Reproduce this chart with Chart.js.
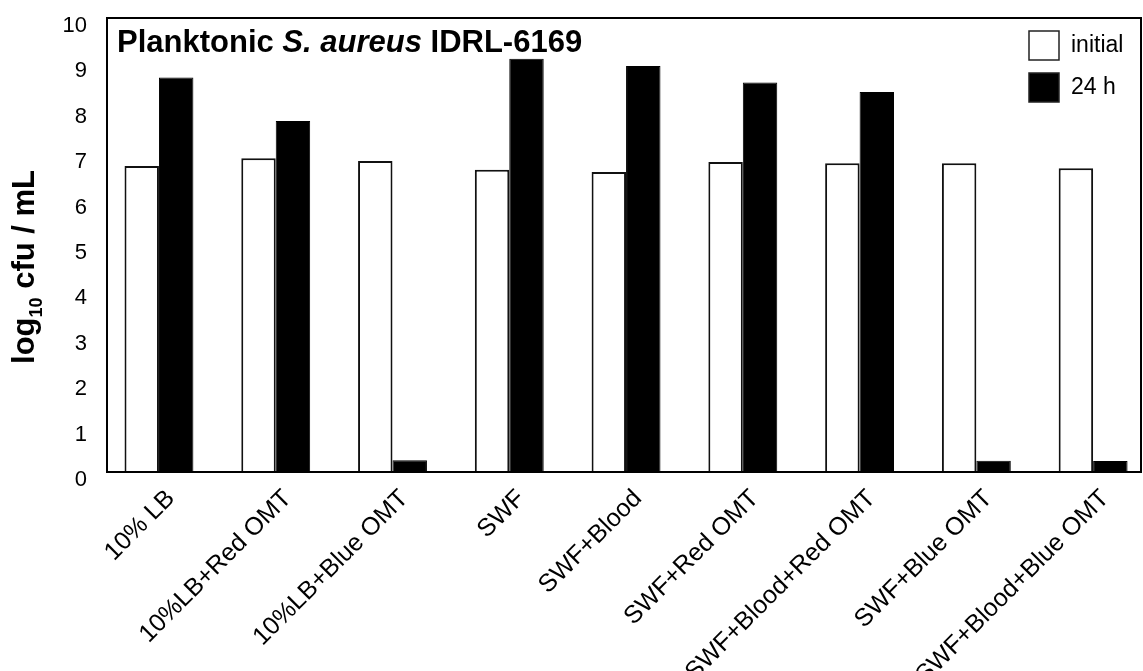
<!DOCTYPE html>
<html>
<head>
<meta charset="utf-8">
<script src="https://cdn.jsdelivr.net/npm/chart.js@4.4.1/dist/chart.umd.min.js"></script>
<style>
  html, body { margin: 0; padding: 0; background: #fff; }
  #wrap { width: 1143px; height: 671px; }
</style>
</head>
<body>
<div id="wrap"><canvas id="chart"></canvas></div>
<script>
// Data
const categories = [
  "10% LB",
  "10%LB+Red OMT",
  "10%LB+Blue OMT",
  "SWF",
  "SWF+Blood",
  "SWF+Red OMT",
  "SWF+Blood+Red OMT",
  "SWF+Blue OMT",
  "SWF+Blood+Blue OMT",
];
const initialValues = [6.74, 6.91, 6.85, 6.66, 6.61, 6.83, 6.80, 6.80, 6.69];
const after24hValues = [8.69, 7.73, 0.26, 9.10, 8.94, 8.58, 8.37, 0.25, 0.24];
const seriesLabels = ["initial", "24 h"];
const yTicks = [0, 1, 2, 3, 4, 5, 6, 7, 8, 9, 10];

const FONT = "'Liberation Sans', Arial, Helvetica, sans-serif";

// Box around the plot
const framePlugin = {
  id: "frame",
  afterDatasetsDraw(chart) {
    const { ctx, chartArea } = chart;
    ctx.save();
    ctx.strokeStyle = "#000";
    ctx.lineWidth = 2;
    ctx.strokeRect(chartArea.left, chartArea.top, chartArea.right - chartArea.left, chartArea.bottom - chartArea.top);
    ctx.restore();
  },
};

// Title inside the plot, with the species name in italics
const innerTitlePlugin = {
  id: "innerTitle",
  afterDraw(chart) {
    const { ctx, chartArea } = chart;
    const parts = [
      { text: "Planktonic ", italic: false },
      { text: "S. aureus", italic: true },
      { text: " IDRL-6169", italic: false },
    ];
    let x = chartArea.left + 10;
    const y = chartArea.top + 34;
    ctx.save();
    ctx.fillStyle = "#000";
    ctx.textBaseline = "alphabetic";
    ctx.textAlign = "left";
    parts.forEach((p) => {
      ctx.font = (p.italic ? "italic " : "") + "bold 31px " + FONT;
      ctx.fillText(p.text, x, y);
      x += ctx.measureText(p.text).width;
    });
    ctx.restore();
  },
};

// Legend boxes in the top right corner of the frame
const innerLegendPlugin = {
  id: "innerLegend",
  afterDraw(chart) {
    const { ctx, chartArea } = chart;
    ctx.save();
    ctx.font = "23px " + FONT;
    ctx.textBaseline = "middle";
    ctx.textAlign = "left";
    chart.data.datasets.forEach((ds, i) => {
      const bx = chartArea.right - 112;
      const by = chartArea.top + 13 + i * 42;
      ctx.fillStyle = ds.backgroundColor;
      ctx.fillRect(bx, by, 30, 29);
      ctx.strokeStyle = "#222";
      ctx.lineWidth = 1.5;
      ctx.strokeRect(bx, by, 30, 29);
      ctx.fillStyle = "#000";
      ctx.fillText(ds.label, bx + 42, by + 15);
    });
    ctx.restore();
  },
};

// Y axis title with a real subscript
const yTitlePlugin = {
  id: "yTitle",
  afterDraw(chart) {
    const { ctx } = chart;
    const big = "bold 31px " + FONT;
    const small = "bold 18px " + FONT;
    ctx.save();
    ctx.translate(34, 267);
    ctx.rotate(-Math.PI / 2);
    ctx.fillStyle = "#000";
    ctx.textBaseline = "alphabetic";
    ctx.font = big;
    const w1 = ctx.measureText("log").width;
    ctx.font = small;
    const w2 = ctx.measureText("10").width;
    ctx.font = big;
    const w3 = ctx.measureText(" cfu / mL").width;
    let x = -(w1 + w2 + w3) / 2;
    ctx.fillText("log", x, 0);
    x += w1;
    ctx.font = small;
    ctx.fillText("10", x, 8);
    x += w2;
    ctx.font = big;
    ctx.fillText(" cfu / mL", x, 0);
    ctx.restore();
  },
};

// Bars sit on a linear x axis (one unit per group) so the groups can be placed like the original
const initialPoints = initialValues.map((v, i) => ({ x: i, y: v }));
const after24hPoints = after24hValues.map((v, i) => ({ x: i, y: v }));

const ctx = document.getElementById("chart").getContext("2d");
new Chart(ctx, {
  type: "bar",
  data: {
    datasets: [
      {
        label: seriesLabels[0],
        data: initialPoints,
        backgroundColor: "#ffffff",
        borderColor: "#111111",
        borderWidth: 2,
        barPercentage: 1.0,
        categoryPercentage: 0.59,
      },
      {
        label: seriesLabels[1],
        data: after24hPoints,
        backgroundColor: "#000000",
        borderColor: "#000000",
        borderWidth: 1,
        barPercentage: 1.0,
        categoryPercentage: 0.59,
      },
    ],
  },
  options: {
    responsive: true,
    maintainAspectRatio: false,
    animation: false,
    layout: { padding: { top: 18, right: 2, bottom: 0, left: 0 } },
    plugins: {
      legend: { display: false },
      tooltip: { enabled: false },
      title: { display: false },
    },
    scales: {
      x: {
        type: "linear",
        min: -0.445,
        max: 8.41,
        offset: false,
        grid: { display: false },
        border: { display: false },
        afterBuildTicks(scale) {
          scale.ticks = categories.map((_, i) => ({ value: i }));
        },
        ticks: {
          color: "#000",
          font: { family: FONT, size: 25 },
          minRotation: 45,
          maxRotation: 45,
          padding: 4,
          labelOffset: 12,
          autoSkip: false,
          callback: (value) => categories[value],
        },
        afterFit(scale) {
          scale.height = 199;
        },
      },
      y: {
        min: 0,
        max: 10,
        grid: { display: false },
        border: { display: false },
        afterBuildTicks(scale) {
          scale.ticks = yTicks.map((v) => ({ value: v }));
        },
        ticks: {
          color: "#000",
          font: { family: FONT, size: 22 },
          padding: 12,
          labelOffset: 8,
        },
        afterFit(scale) {
          scale.width = 107;
          // keep the tick padding from pushing the plot down
          scale.paddingTop = 0;
          scale.paddingBottom = 0;
        },
      },
    },
  },
  plugins: [framePlugin, innerTitlePlugin, innerLegendPlugin, yTitlePlugin],
});
</script>
</body>
</html>
